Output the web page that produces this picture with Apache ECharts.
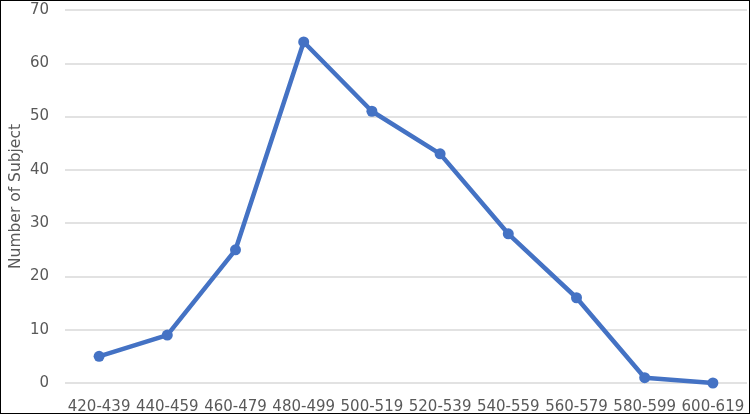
<!DOCTYPE html>
<html>
<head>
<meta charset="utf-8">
<script src="https://cdn.jsdelivr.net/npm/echarts@6/dist/echarts.min.js"></script>
<style>
  html, body { margin: 0; padding: 0; background: #fff; }
  #chart { width: 750px; height: 414px; border: 1px solid #000; box-sizing: border-box; }
</style>
</head>
<body>
<div id="chart"></div>
<script>
const categories = ['420-439', '440-459', '460-479', '480-499', '500-519', '520-539', '540-559', '560-579', '580-599', '600-619'];
const subjects = [5, 9, 25, 64, 51, 43, 28, 16, 1, 0];

const chart = echarts.init(document.getElementById('chart'));

const labelFont = 'DejaVu Sans, sans-serif';

const option = {
  animation: false,
  grid: {
    left: 64,
    right: 2,
    top: 9,
    bottom: 30,
    containLabel: false,
    outerBoundsMode: 'none'
  },
  xAxis: {
    type: 'category',
    data: categories,
    boundaryGap: true,
    axisLine: { show: false },
    axisTick: { show: false },
    axisLabel: {
      color: '#595959',
      fontFamily: labelFont,
      fontSize: 15,
      margin: 17,
      interval: 0
    }
  },
  yAxis: {
    type: 'value',
    min: 0,
    max: 70,
    interval: 10,
    name: 'Number of Subject',
    nameLocation: 'middle',
    nameGap: 41,
    nameMoveOverlap: false,
    nameTextStyle: {
      color: '#595959',
      fontFamily: labelFont,
      fontSize: 15.5
    },
    axisLine: { show: false },
    axisTick: { show: false },
    axisLabel: {
      color: '#595959',
      fontFamily: labelFont,
      fontSize: 15,
      margin: 16
    },
    splitLine: {
      lineStyle: { color: '#d9d9d9', width: 1.5 }
    }
  },
  series: [
    {
      type: 'line',
      data: subjects,
      symbol: 'circle',
      symbolSize: 11,
      lineStyle: { color: '#4472c4', width: 4.5 },
      itemStyle: { color: '#4472c4' }
    }
  ]
};

chart.setOption(option);
</script>
</body>
</html>
